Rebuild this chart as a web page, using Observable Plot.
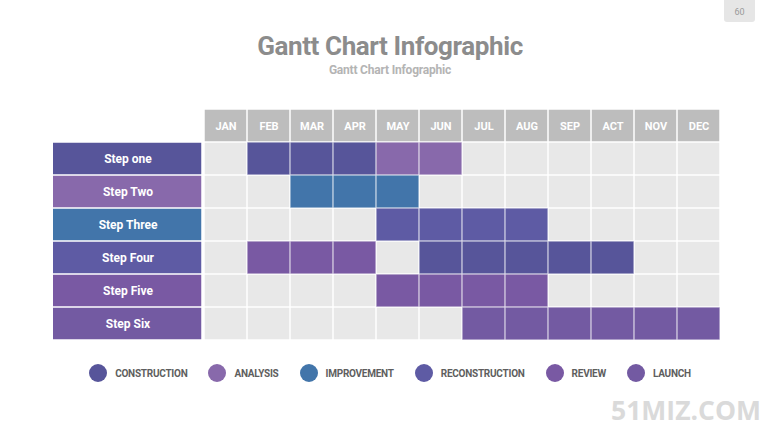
<!DOCTYPE html>
<html><head><meta charset="utf-8">
<script src="https://cdn.jsdelivr.net/npm/d3@7"></script>
<script src="https://cdn.jsdelivr.net/npm/@observablehq/plot@0.6"></script>
<style>
html,body{margin:0;padding:0;background:#fff;}
#page{position:relative;width:780px;height:439px;overflow:hidden;font-family:Roboto,sans-serif;}
#title{position:absolute;left:0;width:780px;top:33px;text-align:center;font-size:26px;font-weight:700;color:#8c8c8c;letter-spacing:-0.4px;line-height:1;}
#subtitle{position:absolute;left:0;width:780px;top:64px;text-align:center;font-size:12px;font-weight:700;color:#b4b4b4;letter-spacing:-0.2px;line-height:1}
#pagenum{position:absolute;left:724px;top:0;width:31px;height:22px;background:#e6e6e6;border-radius:0 0 3px 3px;color:#9a9a9a;font-size:9px;text-align:center;line-height:25px}
#labels{position:absolute;left:53px;top:106.5px;line-height:0}
#grid{position:absolute;left:201px;top:106.5px;line-height:0}
#legend{position:absolute;left:0;width:780px;top:364px;display:flex;justify-content:center;}
.item{display:flex;align-items:center;margin:0 10.5px;}
.dot{width:18px;height:18px;border-radius:50%;margin-right:8px}
.lab{font-size:10px;font-weight:700;color:#5e5e5e;letter-spacing:-0.25px}
#wm{position:absolute;right:19px;top:397px;font-family:"Open Sans";font-weight:700;font-size:26.5px;color:#dadada;line-height:1}
</style>
</head>
<body>
<div id="page">
  <div id="pagenum">60</div>
  <div id="title">Gantt Chart Infographic</div>
  <div id="subtitle">Gantt Chart Infographic</div>
  <div id="labels"></div>
  <div id="grid"></div>
  <div id="legend"></div>
  <div id="wm">51MIZ.COM</div>
</div>
<script>
const months = ["JAN","FEB","MAR","APR","MAY","JUN","JUL","AUG","SEP","ACT","NOV","DEC"];
const steps = ["Step one","Step Two","Step Three","Step Four","Step Five","Step Six"];
const phases = ["CONSTRUCTION","ANALYSIS","IMPROVEMENT","RECONSTRUCTION","REVIEW","LAUNCH"];
const phaseColors = ["#57559a","#8869ab","#4275aa","#5e5ba4","#7959a3","#735aa2"];
const stepPhase = ["CONSTRUCTION","ANALYSIS","IMPROVEMENT","RECONSTRUCTION","REVIEW","LAUNCH"];

const taskStep  = ["Step one","Step one","Step Two","Step Three","Step Four","Step Four","Step Five","Step Six"];
const taskPhase = ["CONSTRUCTION","ANALYSIS","IMPROVEMENT","RECONSTRUCTION","REVIEW","CONSTRUCTION","REVIEW","LAUNCH"];
const taskStart = ["FEB","MAY","MAR","MAY","FEB","JUN","MAY","JUL"];
const taskEnd   = ["APR","JUN","MAY","AUG","APR","ACT","AUG","DEC"];

const HEAD = "HEAD";
const yDomain = [HEAD, ...steps];

const cells = [];
taskStep.forEach((s, i) => {
  for (let k = months.indexOf(taskStart[i]); k <= months.indexOf(taskEnd[i]); k++) {
    cells.push({step: s, month: months[k], phase: taskPhase[i]});
  }
});
const background = steps.flatMap(s => months.map(m => ({step: s, month: m})));
const header = months.map(m => ({month: m, row: HEAD}));
const stepData = steps.map((s, i) => ({step: s, phase: stepPhase[i]}));

const baseStyle = {fontFamily: "Roboto", background: "transparent", overflow: "visible", display: "block"};

const grid = Plot.plot({
  width: 521, height: 235, margin: 0,
  x: {domain: months, axis: null, padding: 0},
  y: {domain: yDomain, axis: null, padding: 0},
  color: {domain: phases, range: phaseColors},
  style: baseStyle,
  marks: [
    Plot.cell(header, {x: "month", y: "row", fill: "#bdbdbd", inset: 0.75}),
    Plot.text(header, {x: "month", y: "row", text: "month", fill: "white", fontWeight: 700, fontSize: 11, style: "letter-spacing:0.4px"}),
    Plot.cell(background, {x: "month", y: "step", fill: "#e8e8e8", inset: 0.75}),
    Plot.cell(cells, {x: "month", y: "step", fill: "phase", inset: 0.25, stroke: "white", strokeOpacity: 0.35, strokeWidth: 1})
  ]
});
document.getElementById("grid").append(grid);

const labels = Plot.plot({
  width: 149, height: 235, margin: 0,
  y: {domain: yDomain, axis: null, padding: 0},
  color: {domain: phases, range: phaseColors},
  style: baseStyle,
  marks: [
    Plot.cell(stepData, {y: "step", fill: "phase", insetTop: 0.75, insetBottom: 0.75, insetRight: 0.75}),
    Plot.text(stepData, {y: "step", text: "step", fill: "white", fontWeight: 700, fontSize: 12})
  ]
});
document.getElementById("labels").append(labels);

const items = d3.select("#legend").selectAll(".item").data(phases).join("div").attr("class", "item");
items.append("div").attr("class", "dot").style("background", (d, i) => phaseColors[i]);
items.append("div").attr("class", "lab").text(d => d);
</script>
</body></html>
